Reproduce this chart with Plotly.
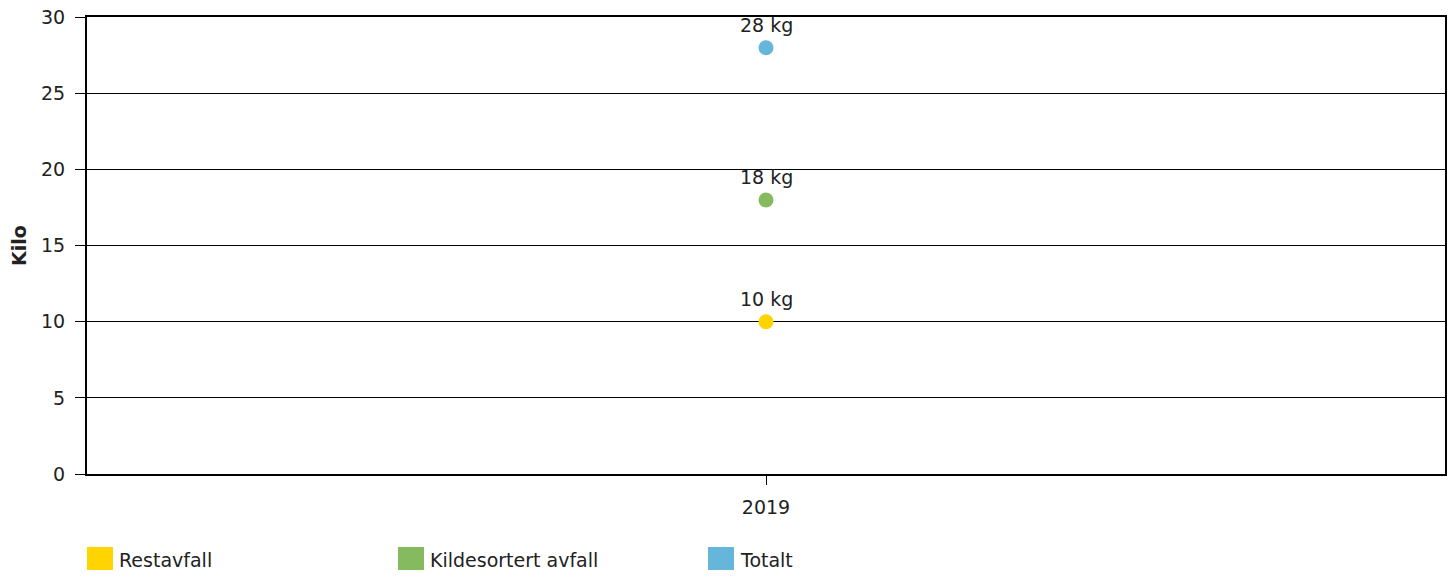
import plotly.graph_objects as go

categories = ["2019"]
series_names = ["Restavfall", "Kildesortert avfall", "Totalt"]
series_values = [[10], [18], [28]]
series_labels = [["10 kg"], ["18 kg"], ["28 kg"]]
colors = ["#FFD400", "#85BA5F", "#66B6DC"]
y_ticks = [0, 5, 10, 15, 20, 25, 30]

FONT = "DejaVu Sans"
FS = 19

fig = go.Figure()
for name, vals, col in zip(series_names, series_values, colors):
    fig.add_trace(go.Scatter(x=categories, y=vals, mode="markers", name=name,
                             marker=dict(color=col, size=15), showlegend=False))

annotations = []
for vals, labs in zip(series_values, series_labels):
    for x, y, t in zip(categories, vals, labs):
        annotations.append(dict(x=categories.index(x), y=y, text=t, showarrow=False,
                                yshift=23,
                                font=dict(family=FONT, size=FS, color="#222")))

# legend drawn manually
plot_w, plot_h = 1358, 457
leg_x = [0, 311, 621]  # pixel offsets from plot left
shapes = []
for i, (name, col) in enumerate(zip(series_names, colors)):
    shapes.append(dict(type="rect", xref="paper", yref="paper",
                       x0=leg_x[i] / plot_w, x1=(leg_x[i] + 26) / plot_w,
                       y0=-(86 + 13) / plot_h, y1=-(86 - 13) / plot_h,
                       fillcolor=col, line=dict(width=0)))
    annotations.append(dict(xref="paper", yref="paper", x=(leg_x[i] + 30) / plot_w,
                            y=-86 / plot_h, text=name, showarrow=False,
                            xanchor="left", yanchor="middle",
                            font=dict(family=FONT, size=FS, color="#222")))

fig.update_layout(
    width=1439, height=562,
    margin=dict(l=79, r=2, t=9, b=96, pad=0),
    paper_bgcolor="white", plot_bgcolor="white",
    font=dict(family=FONT, size=FS, color="#222"),
    showlegend=False,
    shapes=shapes, annotations=annotations,
    xaxis=dict(type="category", range=[-0.5, 0.5], showgrid=False, showline=True,
               linecolor="black", linewidth=2, ticks="outside", ticklen=9,
               tickcolor="black", mirror=True, zeroline=False,
               ticklabelstandoff=6, automargin=False),
    yaxis=dict(range=[0, 30.02], tickvals=y_ticks, showgrid=True, gridcolor="black",
               gridwidth=1, showline=True, linecolor="black", linewidth=2,
               mirror=True, ticks="outside", ticklen=10, tickcolor="black",
               zeroline=False, ticklabelstandoff=6, ticklabeloverflow="allow",
               automargin=False,
               title=dict(text="<b>Kilo</b>", standoff=18,
                          font=dict(family=FONT, size=FS))),
)

fig.write_html("out.html")
